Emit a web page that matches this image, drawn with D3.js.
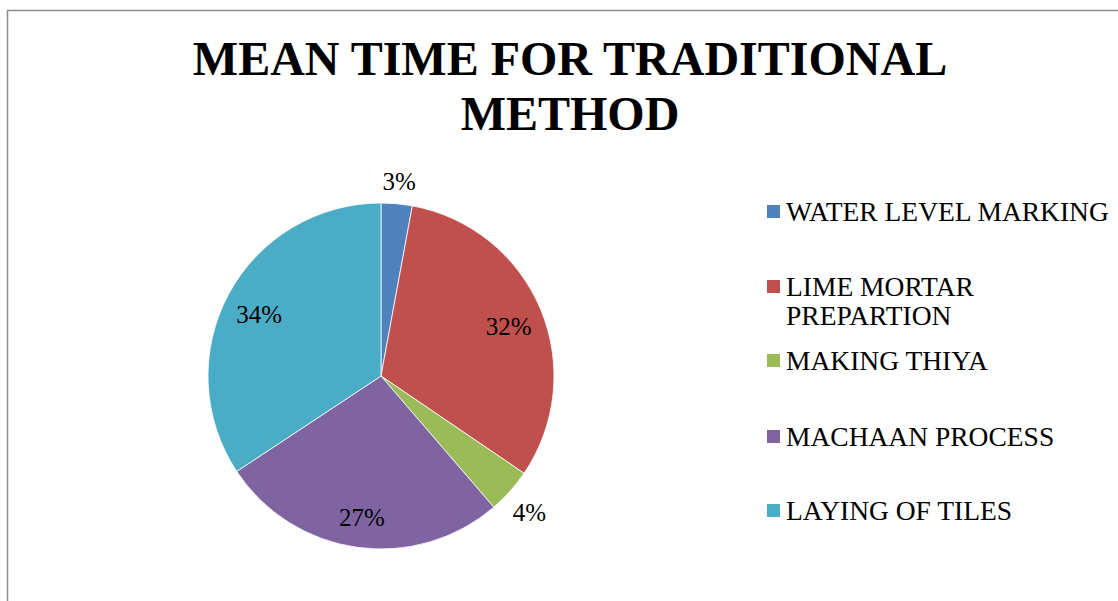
<!DOCTYPE html>
<html>
<head>
<meta charset="utf-8">
<script src="https://cdn.jsdelivr.net/npm/d3@7"></script>
<style>
  body { margin: 0; background: #fff; }
</style>
</head>
<body>
<script>
const WIDTH = 1118
const HEIGHT = 601
const FONT = "Liberation Serif, Times New Roman, serif"

// donnees
const categories = ["WATER LEVEL MARKING", "LIME MORTAR PREPARTION", "MAKING THIYA", "MACHAAN PROCESS", "LAYING OF TILES"]
const values = [2.9, 31.6, 4.2, 27.0, 34.3]
const colors = ["#4F81BD", "#C0504D", "#9BBB59", "#8064A2", "#4BACC6"]
const titleLines = ["MEAN TIME FOR TRADITIONAL", "METHOD"]

const data = categories.map((c, i) => ({ name: c, value: values[i], color: colors[i] }))

const svg = d3.select("body")
    .append("svg")
    .attr("width", WIDTH)
    .attr("height", HEIGHT)
    .attr("font-family", FONT)

// cadre du graphique (sort de l'image a droite et en bas)
svg.append("rect")
    .attr("x", 7.5)
    .attr("y", 10.5)
    .attr("width", WIDTH + 20)
    .attr("height", HEIGHT + 20)
    .attr("fill", "none")
    .attr("stroke", "#8c8c8c")
    .attr("stroke-width", 1.5)

// titre
svg.append("g").selectAll("text")
    .data(titleLines)
    .enter()
    .append("text")
    .attr("x", 570)
    .attr("y", (d, i) => 75 + i * 55)
    .attr("text-anchor", "middle")
    .attr("font-size", 48)
    .attr("font-weight", "bold")
    .attr("fill", "#000")
    .text(d => d)

// camembert
const cx = 381, cy = 376, R = 173
const pie = d3.pie().value(d => d.value).sort(null)
const arc = d3.arc().innerRadius(0).outerRadius(R)
const arcs = pie(data)

const g = svg.append("g").attr("transform", `translate(${cx},${cy})`)

g.selectAll("path")
    .data(arcs)
    .enter()
    .append("path")
    .attr("d", arc)
    .attr("fill", d => d.data.color)
    .attr("stroke", "#fff")
    .attr("stroke-width", 0.8)

// etiquettes : dedans pour les grosses parts, dehors pour les petites
const inArc = d3.arc().innerRadius(R * 0.8).outerRadius(R * 0.8)
const outArc = d3.arc().innerRadius(R + 26).outerRadius(R + 26)

g.selectAll("text.lbl")
    .data(arcs)
    .enter()
    .append("text")
    .attr("class", "lbl")
    .attr("transform", d => `translate(${(d.data.value < 10 ? outArc : inArc).centroid(d)})`)
    .attr("text-anchor", "middle")
    .attr("dy", "0.5em")
    .attr("font-size", 25)
    .attr("fill", "#000")
    .text(d => Math.round(d.data.value) + "%")

// legende
const legendRows = [[211], [286, 315.5], [360], [436], [510]]
const legend = svg.append("g")

const item = legend.selectAll("g")
    .data(data)
    .enter()
    .append("g")

item.append("rect")
    .attr("x", 767)
    .attr("y", (d, i) => legendRows[i][0] - 6)
    .attr("width", 13)
    .attr("height", 13)
    .attr("fill", d => d.color)

item.each(function(d, i) {
    const words = d.name === "LIME MORTAR PREPARTION" ? ["LIME MORTAR", "PREPARTION"] : [d.name]
    d3.select(this).selectAll("text")
        .data(words)
        .enter()
        .append("text")
        .attr("x", 786)
        .attr("y", (w, j) => legendRows[i][j])
        .attr("dy", "0.35em")
        .attr("font-size", 27.5)
        .attr("fill", "#000")
        .text(w => w)
})
</script>
</body>
</html>
